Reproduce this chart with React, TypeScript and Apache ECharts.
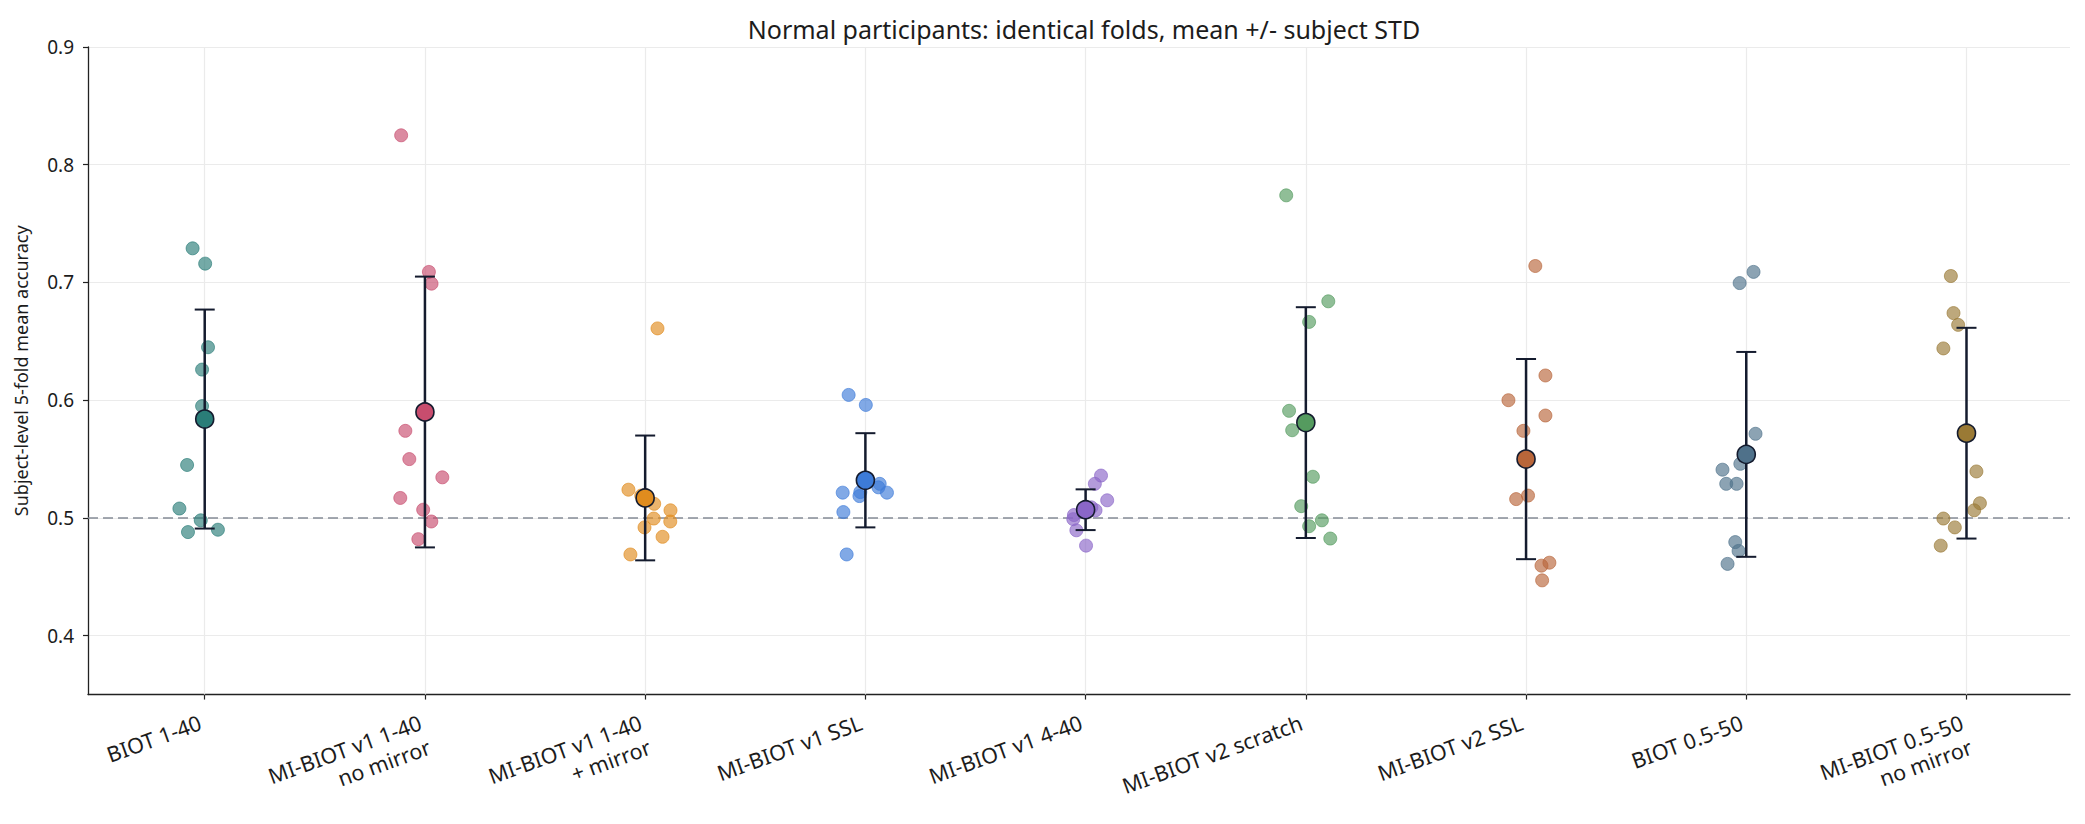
import React, { useEffect, useRef } from "react";
import * as echarts from "echarts";

// Model variants along the x axis
const categories = [
  "BIOT 1-40",
  "MI-BIOT v1 1-40\nno mirror",
  "MI-BIOT v1 1-40\n+ mirror",
  "MI-BIOT v1 SSL",
  "MI-BIOT v1 4-40",
  "MI-BIOT v2 scratch",
  "MI-BIOT v2 SSL",
  "BIOT 0.5-50",
  "MI-BIOT 0.5-50\nno mirror",
];

// Per-subject 5-fold mean accuracy, and the horizontal jitter used to spread the dots
const biot140Acc = [0.729, 0.716, 0.645, 0.626, 0.595, 0.545, 0.508, 0.498, 0.488, 0.49];
const biot140Jit = [-0.055, 0.002, 0.015, -0.012, -0.012, -0.08, -0.115, -0.018, -0.076, 0.06];

const mi140NoMirAcc = [0.825, 0.709, 0.699, 0.574, 0.55, 0.5345, 0.517, 0.507, 0.497, 0.482];
const mi140NoMirJit = [-0.108, 0.018, 0.03, -0.089, -0.071, 0.079, -0.112, -0.008, 0.029, -0.03];

const mi140MirAcc = [0.661, 0.524, 0.519, 0.512, 0.5065, 0.4995, 0.497, 0.492, 0.484, 0.469];
const mi140MirJit = [0.056, -0.076, -0.018, 0.041, 0.115, 0.039, 0.114, -0.003, 0.079, -0.067];

const miV1SslAcc = [0.6045, 0.596, 0.529, 0.526, 0.5215, 0.522, 0.5186, 0.5215, 0.505, 0.469];
const miV1SslJit = [-0.076, 0.002, 0.065, 0.059, 0.098, -0.023, -0.027, -0.103, -0.1, -0.085];

const miV1440Acc = [0.536, 0.529, 0.515, 0.5065, 0.509, 0.5025, 0.499, 0.4895, 0.4765, 0.505];
const miV1440Jit = [0.07, 0.042, 0.098, 0.045, 0.026, -0.053, -0.056, -0.042, 0.002, -0.01];

const miV2ScratchAcc = [0.774, 0.684, 0.6665, 0.591, 0.5745, 0.535, 0.51, 0.498, 0.493, 0.4825];
const miV2ScratchJit = [-0.089, 0.102, 0.015, -0.076, -0.062, 0.032, -0.021, 0.073, 0.015, 0.111];

const miV2SslAcc = [0.714, 0.621, 0.6, 0.587, 0.574, 0.519, 0.516, 0.462, 0.4595, 0.447];
const miV2SslJit = [0.042, 0.088, -0.08, 0.088, -0.012, 0.009, -0.045, 0.106, 0.07, 0.073];

const biot0550Acc = [0.709, 0.6995, 0.5715, 0.546, 0.541, 0.529, 0.529, 0.4795, 0.472, 0.461];
const biot0550Jit = [0.033, -0.03, 0.042, -0.027, -0.108, -0.091, -0.044, -0.05, -0.035, -0.085];

const mi0550NoMirAcc = [0.7055, 0.674, 0.664, 0.644, 0.5395, 0.5125, 0.5065, 0.4995, 0.492, 0.4765];
const mi0550NoMirJit = [-0.071, -0.059, -0.038, -0.105, 0.045, 0.061, 0.035, -0.105, -0.053, -0.117];

// Mean across subjects and subject-level standard deviation
const means = [0.584, 0.59, 0.517, 0.532, 0.507, 0.581, 0.55, 0.554, 0.572];
const stds = [0.093, 0.115, 0.053, 0.04, 0.0173, 0.098, 0.085, 0.087, 0.0895];

const colors = [
  "#2a7d78",
  "#c84d6e",
  "#e08c1e",
  "#3d7bd8",
  "#8a66c8",
  "#559b5f",
  "#b9663a",
  "#4f718a",
  "#9a7a35",
];

const accs = [
  biot140Acc,
  mi140NoMirAcc,
  mi140MirAcc,
  miV1SslAcc,
  miV1440Acc,
  miV2ScratchAcc,
  miV2SslAcc,
  biot0550Acc,
  mi0550NoMirAcc,
];
const jits = [
  biot140Jit,
  mi140NoMirJit,
  mi140MirJit,
  miV1SslJit,
  miV1440Jit,
  miV2ScratchJit,
  miV2SslJit,
  biot0550Jit,
  mi0550NoMirJit,
];

const yTicks = [0.4, 0.5, 0.6, 0.7, 0.8, 0.9];
const chanceLevel = 0.5;

const FONT = "'Noto Sans', sans-serif";
const INK = "#1c1c1c";
const BAR = "#141b2e";

export default function App() {
  const ref = useRef<HTMLDivElement>(null);

  useEffect(() => {
    if (!ref.current) return;
    const chart = echarts.init(ref.current, undefined, { renderer: "svg" });
    const catIdx = categories.map((_, i) => i);

    const dotSeries = accs.map((vals, i) => ({
      type: "scatter",
      z: 3,
      symbol: "circle",
      symbolSize: 13,
      itemStyle: {
        color: colors[i],
        opacity: 0.65,
        borderColor: colors[i],
        borderWidth: 1,
      },
      data: vals.map((v, k) => [i + jits[i][k], v]),
      silent: true,
    }));

    const option = {
      animation: false,
      backgroundColor: "#ffffff",
      textStyle: { fontFamily: FONT },
      title: {
        text: "Normal participants: identical folds, mean +/- subject STD",
        left: 1079,
        textAlign: "center",
        top: 11,
        textStyle: { fontFamily: FONT, fontSize: 25, fontWeight: "normal", color: INK },
      },
      grid: { left: 88, right: 15, top: 47, bottom: 129, containLabel: false },
      xAxis: {
        type: "value",
        min: -0.53,
        max: 8.47,
        axisLine: { show: true, onZero: false, lineStyle: { color: "#222", width: 1.3 } },
        axisTick: {
          show: true,
          customValues: catIdx,
          length: 5,
          inside: false,
          lineStyle: { color: "#222", width: 1.2 },
        },
        axisLabel: {
          customValues: catIdx,
          rotate: 20,
          margin: 39,
          fontFamily: FONT,
          fontSize: 21.5,
          color: INK,
          lineHeight: 26,
          formatter: (v: number) => {
            const k = Math.round(v);
            if (Math.abs(v - k) > 1e-6 || k < 0 || k >= categories.length) return "";
            const t = categories[k];
            return t.includes("\n") ? t : t + "\n ";
          },
        },
        splitLine: { show: false },
      },
      yAxis: {
        type: "value",
        min: 0.35,
        max: 0.9,
        name: "Subject-level 5-fold mean accuracy",
        nameLocation: "middle",
        nameGap: 58,
        nameTextStyle: { fontFamily: FONT, fontSize: 18, color: INK },
        axisLine: { show: true, onZero: false, lineStyle: { color: "#222", width: 1.3 } },
        axisTick: {
          show: true,
          customValues: yTicks,
          length: 5,
          lineStyle: { color: "#222", width: 1.2 },
        },
        axisLabel: {
          customValues: yTicks,
          margin: 14,
          fontFamily: FONT,
          fontSize: 19,
          color: INK,
          formatter: (v: number) => v.toFixed(1),
        },
        splitLine: { show: true, lineStyle: { color: "#ebebeb", width: 1.2 } },
      },
      series: [
        {
          type: "scatter",
          z: 1,
          data: [],
          silent: true,
          markLine: {
            z: 1,
            silent: true,
            symbol: "none",
            label: { show: false },
            animation: false,
            data: [
              ...catIdx.map((i) => ({
                xAxis: i,
                lineStyle: { color: "#ebebeb", width: 1.2, type: "solid" },
              })),
              {
                yAxis: chanceLevel,
                lineStyle: { color: "#858c97", width: 1.6, type: [10, 5] },
              },
            ],
          },
        },
        ...dotSeries,
        {
          type: "custom",
          z: 6,
          silent: true,
          data: means.map((m, i) => [i, m - stds[i], m + stds[i]]),
          renderItem: (_params: any, api: any) => {
            const x = api.value(0);
            const lo = api.coord([x, api.value(1)]);
            const hi = api.coord([x, api.value(2)]);
            const cap = 10;
            return {
              type: "group",
              children: [
                {
                  type: "line",
                  shape: { x1: lo[0], y1: lo[1], x2: hi[0], y2: hi[1] },
                  style: { stroke: BAR, lineWidth: 2.5, opacity: 1 },
                },
                {
                  type: "line",
                  shape: { x1: hi[0] - cap, y1: hi[1], x2: hi[0] + cap, y2: hi[1] },
                  style: { stroke: BAR, lineWidth: 2, opacity: 1 },
                },
                {
                  type: "line",
                  shape: { x1: lo[0] - cap, y1: lo[1], x2: lo[0] + cap, y2: lo[1] },
                  style: { stroke: BAR, lineWidth: 2, opacity: 1 },
                },
              ],
            };
          },
        },
        {
          type: "scatter",
          z: 7,
          silent: true,
          symbol: "circle",
          symbolSize: 18,
          data: means.map((m, i) => ({
            value: [i, m],
            itemStyle: { color: colors[i], borderColor: BAR, borderWidth: 1.6, opacity: 1 },
          })),
        },
      ],
    };

    chart.setOption(option as any);
    return () => chart.dispose();
  }, []);

  return (
    <div
      ref={ref}
      style={{ position: "absolute", left: 0, top: 0, width: 2085, height: 824, background: "#fff" }}
    />
  );
}
